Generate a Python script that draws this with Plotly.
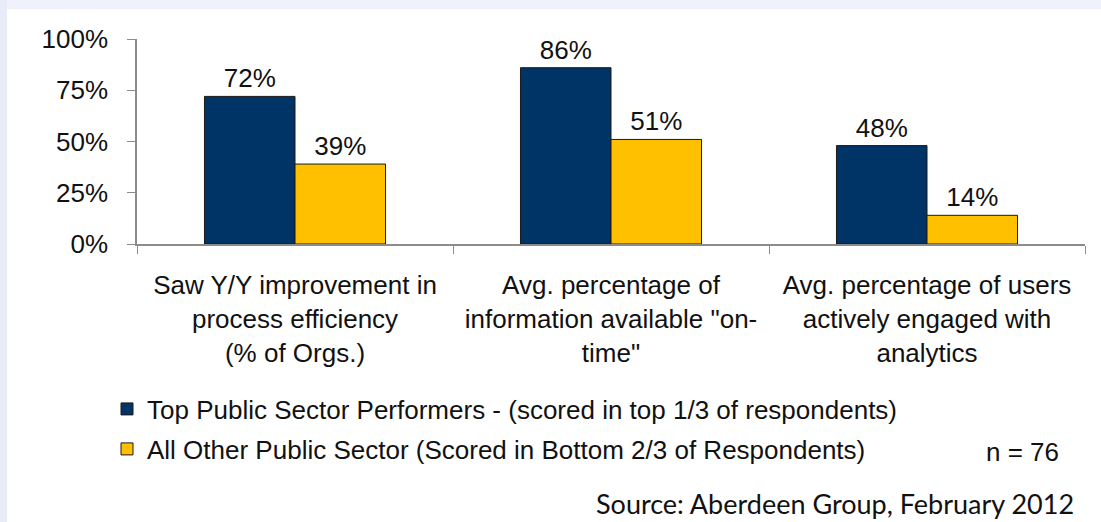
import plotly.graph_objects as go

categories = [
    "Saw Y/Y improvement in<br>process efficiency<br>(% of Orgs.)",
    "Avg. percentage of<br>information available \"on-<br>time\"",
    "Avg. percentage of users<br>actively engaged with<br>analytics",
]
top_values = [0.72, 0.86, 0.48]
other_values = [0.39, 0.51, 0.14]
series_names = [
    "Top Public Sector Performers - (scored in top 1/3 of respondents)",
    "All Other Public Sector (Scored in Bottom 2/3 of Respondents)",
]
y_ticks = [0, 0.25, 0.5, 0.75, 1.0]

W, H = 1101, 522
L, R, T, B = 137, 16, 39, 278
pw, ph = W - L - R, H - T - B

def px(x):
    return (x - L) / pw

def py(y):
    return (H - B - y) / ph

FONT = "Liberation Sans, Arial, sans-serif"
FS = 26

fig = go.Figure()
fig.add_trace(go.Bar(
    x=categories, y=top_values, name=series_names[0],
    marker=dict(color="#003366", line=dict(color="#1a1a1a", width=1)),
    text=[f"{v:.0%}" for v in top_values], textposition="outside",
    textfont=dict(size=FS, color="#111111", family=FONT),
    cliponaxis=False, legend="legend",
))
fig.add_trace(go.Bar(
    x=categories, y=other_values, name=series_names[1],
    marker=dict(color="#FFC000", line=dict(color="#1a1a1a", width=1)),
    text=[f"{v:.0%}" for v in other_values], textposition="outside",
    textfont=dict(size=FS, color="#111111", family=FONT),
    cliponaxis=False, legend="legend2",
))

fig.update_layout(
    width=W, height=H,
    margin=dict(l=L, r=R, t=T, b=B, pad=0),
    paper_bgcolor="white", plot_bgcolor="white",
    font=dict(family=FONT, size=FS, color="#111111"),
    barmode="group", bargap=0.427, bargroupgap=0,
    showlegend=True,
    legend=dict(x=px(107), y=py(409), xanchor="left", yanchor="middle",
                bgcolor="rgba(0,0,0,0)", font=dict(size=FS, family=FONT, color="#111111")),
    legend2=dict(x=px(107), y=py(449), xanchor="left", yanchor="middle",
                 bgcolor="rgba(0,0,0,0)", font=dict(size=FS, family=FONT, color="#111111")),
    xaxis=dict(
        showline=True, linecolor="#8c8c8c", linewidth=1.5,
        ticks="outside", tickson="boundaries", ticklen=8, tickcolor="#8c8c8c",
        tickfont=dict(size=FS, family=FONT, color="#111111"),
        ticklabelstandoff=17, showgrid=False,
    ),
    yaxis=dict(
        range=[0, 1], tickvals=y_ticks, tickformat=".0%",
        showline=True, linecolor="#8c8c8c", linewidth=1.5,
        ticks="outside", ticklen=8, tickcolor="#8c8c8c",
        tickfont=dict(size=FS, family=FONT, color="#111111"),
        ticklabelstandoff=14, showgrid=False, zeroline=False,
    ),
    shapes=[
        dict(type="rect", xref="paper", yref="paper", layer="below",
             x0=px(0), x1=px(W), y0=py(0), y1=py(9),
             fillcolor="#F0F2FB", line=dict(width=0)),
        dict(type="rect", xref="paper", yref="paper", layer="below",
             x0=px(0), x1=px(7), y0=py(H), y1=py(0),
             fillcolor="#E8EBF8", line=dict(width=0)),
    ],
    annotations=[
        dict(text="n = 76", xref="paper", yref="paper", x=px(1022), y=py(452),
             xanchor="center", yanchor="middle", showarrow=False,
             font=dict(size=FS, family=FONT, color="#111111")),
        dict(text="Source: Aberdeen Group, February 2012", xref="paper", yref="paper",
             x=px(1076), y=py(503), xanchor="right", yanchor="middle", showarrow=False,
             font=dict(size=27, family="Lato, Open Sans, sans-serif", color="#111111")),
    ],
)

fig.write_html(
    "out.html",
    config={"displayModeBar": False},
    post_script="document.body.style.margin='0';document.body.style.overflow='hidden';",
)
